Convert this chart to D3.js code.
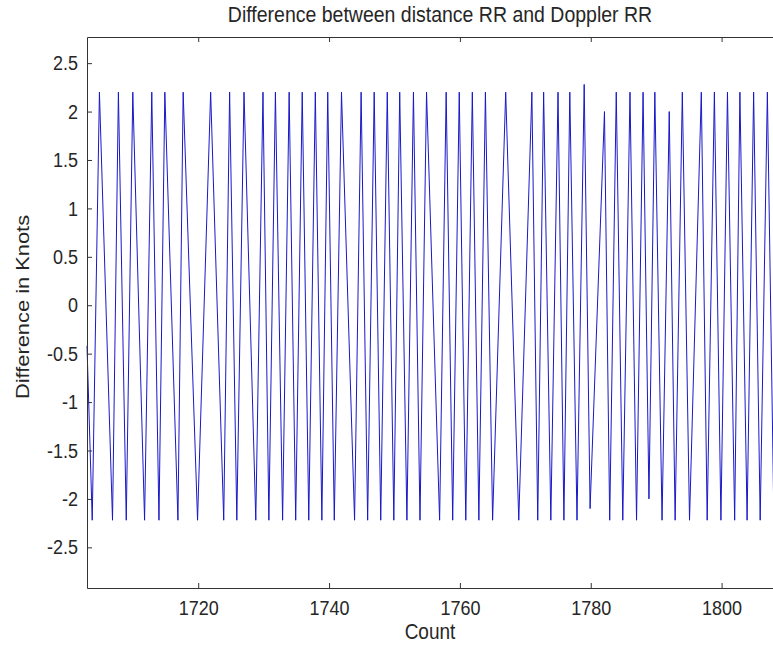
<!DOCTYPE html>
<html>
<head>
<meta charset="utf-8">
<script src="https://cdn.jsdelivr.net/npm/d3@7"></script>
<style>
  body { margin: 0; background: #fff; }
  text { font-family: "Liberation Sans", Arial, sans-serif; fill: #262626; }
</style>
</head>
<body>
<svg id="chart" width="773" height="645"></svg>
<script>
// values (count, knots)
const startCount = [1703.0];
const startValue = [-0.42];

const peakCounts = [1704.9, 1707.8, 1710.0, 1712.9, 1714.9, 1717.7, 1721.9, 1724.8, 1727.0, 1729.9, 1731.8,
  1733.9, 1735.9, 1737.9, 1739.8, 1741.9, 1744.9, 1746.9, 1748.9, 1750.8, 1752.9, 1754.9, 1757.9, 1759.9, 1761.9, 1763.9,
  1767.0, 1771.0, 1772.8, 1775.0, 1776.8, 1779.0, 1782.1, 1783.9, 1786.0, 1788.0, 1789.8, 1792.0, 1794.0,
  1796.9, 1798.9, 1800.9, 1802.8, 1804.9, 1807.0];
const peakValues = [2.2, 2.2, 2.2, 2.2, 2.2, 2.2, 2.2, 2.2, 2.2, 2.2, 2.2,
  2.2, 2.2, 2.2, 2.2, 2.2, 2.2, 2.2, 2.2, 2.2, 2.2, 2.2, 2.2, 2.2, 2.2, 2.2,
  2.2, 2.2, 2.2, 2.2, 2.2, 2.28, 2.0, 2.2, 2.2, 2.2, 2.2, 2.0, 2.2,
  2.2, 2.2, 2.2, 2.2, 2.2, 2.2];

const troughCounts = [1703.8, 1706.9, 1709.0, 1711.8, 1714.0, 1716.9, 1719.9, 1723.9, 1725.9, 1728.8, 1730.8,
  1732.9, 1734.9, 1736.9, 1738.9, 1740.8, 1743.9, 1745.9, 1747.9, 1749.9, 1751.9, 1753.9, 1756.9, 1758.9, 1760.9, 1762.9, 1765.0,
  1769.0, 1771.9, 1773.9, 1775.9, 1777.9, 1779.9, 1782.9, 1784.9, 1787.0, 1788.9, 1790.9, 1792.9, 1795.1,
  1797.8, 1799.9, 1802.0, 1803.9, 1805.9, 1808.0];
const troughValues = [-2.22, -2.22, -2.22, -2.22, -2.22, -2.22, -2.22, -2.22, -2.22, -2.22, -2.22,
  -2.22, -2.22, -2.22, -2.22, -2.22, -2.22, -2.22, -2.22, -2.22, -2.22, -2.22, -2.22, -2.22, -2.22, -2.22, -2.22,
  -2.22, -2.22, -2.22, -2.22, -2.22, -2.1, -2.22, -2.22, -2.22, -2.0, -2.22, -2.22, -2.22,
  -2.22, -2.22, -2.22, -2.22, -2.22, -2.22];

const xTicks = [1720, 1740, 1760, 1780, 1800];
const yTicks = [-2.5, -2, -1.5, -1, -0.5, 0, 0.5, 1, 1.5, 2, 2.5];
const yTickLabels = ["-2.5", "-2", "-1.5", "-1", "-0.5", "0", "0.5", "1", "1.5", "2", "2.5"];

// build the point list
let points = [];
startCount.forEach((c, i) => points.push({ count: c, value: startValue[i] }));
peakCounts.forEach((c, i) => points.push({ count: c, value: peakValues[i] }));
troughCounts.forEach((c, i) => points.push({ count: c, value: troughValues[i] }));
points.sort((a, b) => a.count - b.count);

const svg = d3.select("#chart");
const margin = { left: 87, top: 37, right: 787, bottom: 588 };
const stretch = 1.15; // the original picture text is a bit taller than wide

let xScale = d3.scaleLinear().domain([1703, 1810]).range([margin.left, margin.right]);
let yScale = d3.scaleLinear().domain([-2.92, 2.77]).range([margin.bottom, margin.top]);

// the data line
svg.append("path")
  .datum(points)
  .attr("fill", "none")
  .attr("stroke", "#1818c8")
  .attr("stroke-width", 1)
  .attr("d", d3.line()
    .x(d => xScale(d.count))
    .y(d => yScale(d.value)));

// axes, ticks pointing inwards like matlab
const tickLen = 5;
svg.append("g")
  .attr("class", "x-axis")
  .attr("transform", "translate(0," + margin.bottom + ")")
  .call(d3.axisBottom(xScale).tickValues(xTicks).tickSizeInner(-tickLen).tickSizeOuter(0).tickPadding(12).tickFormat(d3.format("d")));

svg.append("g")
  .attr("transform", "translate(0," + margin.top + ")")
  .call(d3.axisTop(xScale).tickValues(xTicks).tickSizeInner(-tickLen).tickSizeOuter(0).tickFormat(""));

svg.append("g")
  .attr("class", "y-axis")
  .attr("transform", "translate(" + margin.left + ",0)")
  .call(d3.axisLeft(yScale).tickValues(yTicks).tickSizeInner(-tickLen).tickSizeOuter(0).tickPadding(9)
    .tickFormat((d, i) => yTickLabels[i]));

svg.selectAll(".domain, .tick line").attr("stroke", "#333").attr("stroke-width", 1);
svg.selectAll(".tick text").attr("font-size", 18).attr("fill", "#262626")
  .attr("font-family", "'Liberation Sans', Arial, sans-serif");

// stretch the tick labels a little in height
svg.selectAll(".x-axis .tick text")
  .attr("y", function () { return +d3.select(this).attr("y") / stretch; })
  .attr("transform", "scale(1," + stretch + ")");
svg.selectAll(".y-axis .tick text").attr("transform", "scale(1," + stretch + ")");

// titles
svg.append("text")
  .attr("transform", "translate(440,22) scale(1," + stretch + ")")
  .attr("text-anchor", "middle")
  .attr("font-size", 19.5)
  .text("Difference between distance RR and Doppler RR");

svg.append("text")
  .attr("transform", "translate(430,639) scale(1," + stretch + ")")
  .attr("text-anchor", "middle")
  .attr("font-size", 19)
  .text("Count");

svg.append("text")
  .attr("transform", "translate(29,307) rotate(-90) scale(" + stretch + ",1)")
  .attr("text-anchor", "middle")
  .attr("font-size", 19)
  .text("Difference in Knots");
</script>
</body>
</html>
